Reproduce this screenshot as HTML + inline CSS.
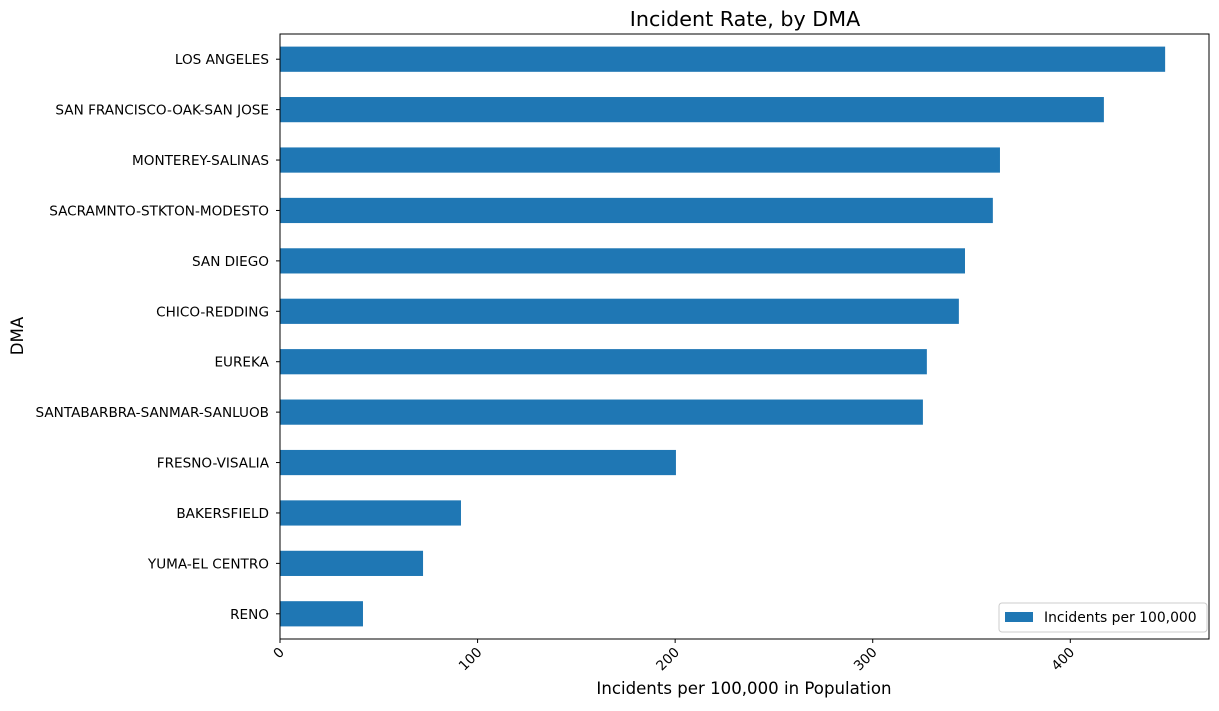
<!DOCTYPE html>
<html><head><meta charset="utf-8"><style>
body{margin:0;background:#fff;font-family:"Liberation Sans","DejaVu Sans",sans-serif;}
svg text{font-family:"DejaVu Sans","Liberation Sans",sans-serif;}
</style></head><body>
<svg id="chart" width="1219" height="706" viewBox="0 0 1219 706" xmlns="http://www.w3.org/2000/svg">
<text x="745" y="26" text-anchor="middle" font-size="20.7" fill="#000">Incident Rate, by DMA</text>
<g id="bars"></g><g id="yticks"></g><g id="xticks"></g>
<rect x="280" y="34" width="929" height="605" fill="none" stroke="#000" stroke-width="1"/>
<text x="744" y="694" text-anchor="middle" font-size="16.6">Incidents per 100,000 in Population</text>
<text transform="translate(23,336) rotate(-90)" text-anchor="middle" font-size="16.6">DMA</text>
<g>
<rect x="999" y="603" width="208" height="29" rx="3" fill="#fff" stroke="#ccc"/>
<rect x="1005" y="612" width="28" height="10" fill="#1f77b4"/>
<text x="1044" y="622" font-size="13.9">Incidents per 100,000</text>
</g>
</svg>
<script>
const categories=["LOS ANGELES","SAN FRANCISCO-OAK-SAN JOSE","MONTEREY-SALINAS","SACRAMNTO-STKTON-MODESTO","SAN DIEGO","CHICO-REDDING","EUREKA","SANTABARBRA-SANMAR-SANLUOB","FRESNO-VISALIA","BAKERSFIELD","YUMA-EL CENTRO","RENO"];
const values=[448,417,364.4,360.8,346.7,343.6,327.4,325.4,200.4,91.6,72.4,42];
const xTicks=[0,100,200,300,400];
const X0=280,X1=1209,Y0=34,Y1=639,XMAX=470.2;
const NS="http://www.w3.org/2000/svg";
const xs=v=>X0+(v/XMAX)*(X1-X0);
const step=(Y1-Y0)/categories.length;
const yc=i=>Y0+step*(i+0.5);
function mk(t,a){const e=document.createElementNS(NS,t);for(const k in a)e.setAttribute(k,a[k]);return e;}
const gb=document.getElementById('bars'),gy=document.getElementById('yticks'),gx=document.getElementById('xticks');
categories.forEach((c,i)=>{
  const r=mk('rect',{x:X0,y:yc(i)-step*0.25,width:xs(values[i])-X0,height:step*0.5,fill:'#1f77b4'});
  
  
  gb.appendChild(r);
  const tk=mk('line',{x1:X0-4,x2:X0,y1:yc(i),y2:yc(i),stroke:'#000'});
  
  
  gy.appendChild(tk);
  const t=mk('text',{x:X0-11,y:yc(i)+5,'text-anchor':'end','font-size':'13.6'});
  t.textContent=c;
  
  
  gy.appendChild(t);
});
xTicks.forEach(v=>{
  const x=xs(v);
  const tk=mk('line',{x1:x,x2:x,y1:Y1,y2:Y1+4,stroke:'#000'});
  
  
  gx.appendChild(tk);
  const t=mk('text',{transform:`translate(${x+5},${Y1+14}) rotate(-45)`,'text-anchor':'end','font-size':'13.6'});
  t.textContent=v;
  
  
  gx.appendChild(t);
});
</script>
</body></html>
